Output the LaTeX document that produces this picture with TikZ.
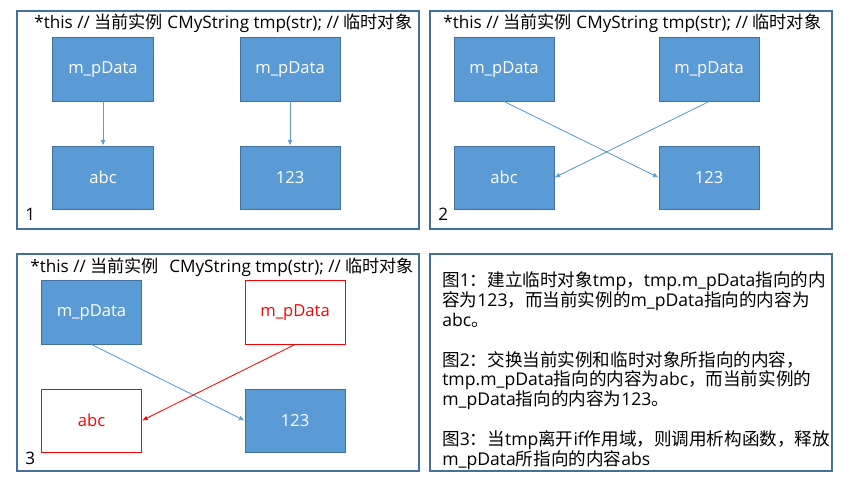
\documentclass[tikz,border=0pt]{standalone}
\usepackage{fontspec}
\setmainfont{Open Sans}
\newfontfamily\cjk{Noto Sans CJK SC}
\newcommand{\zh}[1]{{\cjk #1}}
\usetikzlibrary{arrows.meta,positioning}
\definecolor{boxblue}{HTML}{5B9BD5}
\definecolor{edgeblue}{HTML}{41719C}
\definecolor{pptred}{HTML}{FF0000}

\begin{document}
\begin{tikzpicture} [x=0.025cm,y=-0.025cm,on grid,
    font=\fontsize{12.2}{14.2}\selectfont,
    blk/.style={draw=edgeblue,fill=boxblue,text=white,line width=0.7pt,minimum width=2.5cm,minimum height=1.575cm,inner sep=0pt,font=\fontsize{11.8}{14.2}\selectfont},
    redblk/.style={blk,draw=pptred,fill=white,text=pptred},
    panel/.style={draw=edgeblue,line width=0.8pt},
    ptr/.style={draw=boxblue,line width=0.6pt,-{Latex[length=4pt,width=3.5pt]}},
    redptr/.style={ptr,draw=pptred},
    lbl/.style={anchor=base west,inner sep=0pt}]
    \useasboundingbox (0,0) rectangle (861,484);

    % frames
    \draw[panel] (17,11) rectangle (419,229);
    \draw[panel] (430,11) rectangle (832,229);
    \draw[panel] (17,254) rectangle (419,471);
    \draw[panel] (430,254) rectangle (832,471);

    % panel 1
    \node[lbl] (t1) at (34,29) {*this // \zh{当前实例} CMyString tmp(str); // \zh{临时对象}};
    \node[blk] (a1) at (103,69.5) {m\_pData};
    \node[blk] (b1) [right=4.675cm of a1] {m\_pData};
    \node[blk] (c1) [below=2.7cm of a1] {abc};
    \node[blk] (d1) [below=2.7cm of b1] {123};
    \node[lbl] (n1) at (25,221) {1};
    \draw[ptr] (a1) -- (c1);
    \draw[ptr] (b1) -- (d1);

    % panel 2
    \node[lbl] (t2) at (443,29) {*this // \zh{当前实例} CMyString tmp(str); // \zh{临时对象}};
    \node[blk] (a2) at (504,69.5) {m\_pData};
    \node[blk] (b2) [right=5.125cm of a2] {m\_pData};
    \node[blk] (c2) [below=2.7cm of a2] {abc};
    \node[blk] (d2) [below=2.7cm of b2] {123};
    \node[lbl] (n2) at (438,221) {2};
    \draw[ptr] (a2.south) -- (d2.west);
    \draw[ptr] (b2.south) -- (c2.east);

    % panel 3
    \node[lbl] (t3) at (30,273) {*this // \zh{当前实例}\hspace{0.6em}CMyString tmp(str); // \zh{临时对象}};
    \node[blk] (a3) at (91.5,312.5) {m\_pData};
    \node[redblk] (b3) [right=5.0875cm of a3] {m\_pData};
    \node[redblk] (c3) [below=2.7cm of a3] {abc};
    \node[blk] (d3) [below=2.7cm of b3] {123};
    \node[lbl] (n3) at (25,464) {3};
    \draw[ptr] (a3.south) -- (d3.west);
    \draw[redptr] (b3.south) -- (c3.east);

    % panel 4
    \node[anchor=north west,inner sep=0pt,align=left,font=\fontsize{12.5}{14.2}\selectfont] (txt) at (442,271) {%
        \zh{图}1\zh{：建立临时对象}tmp\zh{，}tmp.m\_pData\zh{指向的内}\\
        \zh{容为}123\zh{，而当前实例的}m\_pData\zh{指向的内容为}\\
        abc\zh{。}\\[14.2pt]
        \zh{图}2\zh{：交换当前实例和临时对象所指向的内容，}\\
        tmp.m\_pData\zh{指向的内容为}abc\zh{，而当前实例的}\\
        m\_pData\zh{指向的内容为}123\zh{。}\\[14.2pt]
        \zh{图}3\zh{：当}tmp\zh{离开}if\zh{作用域，则调用析构函数，释放}\\
        m\_pData\zh{所指向的内容}abs};
\end{tikzpicture}
\end{document}
